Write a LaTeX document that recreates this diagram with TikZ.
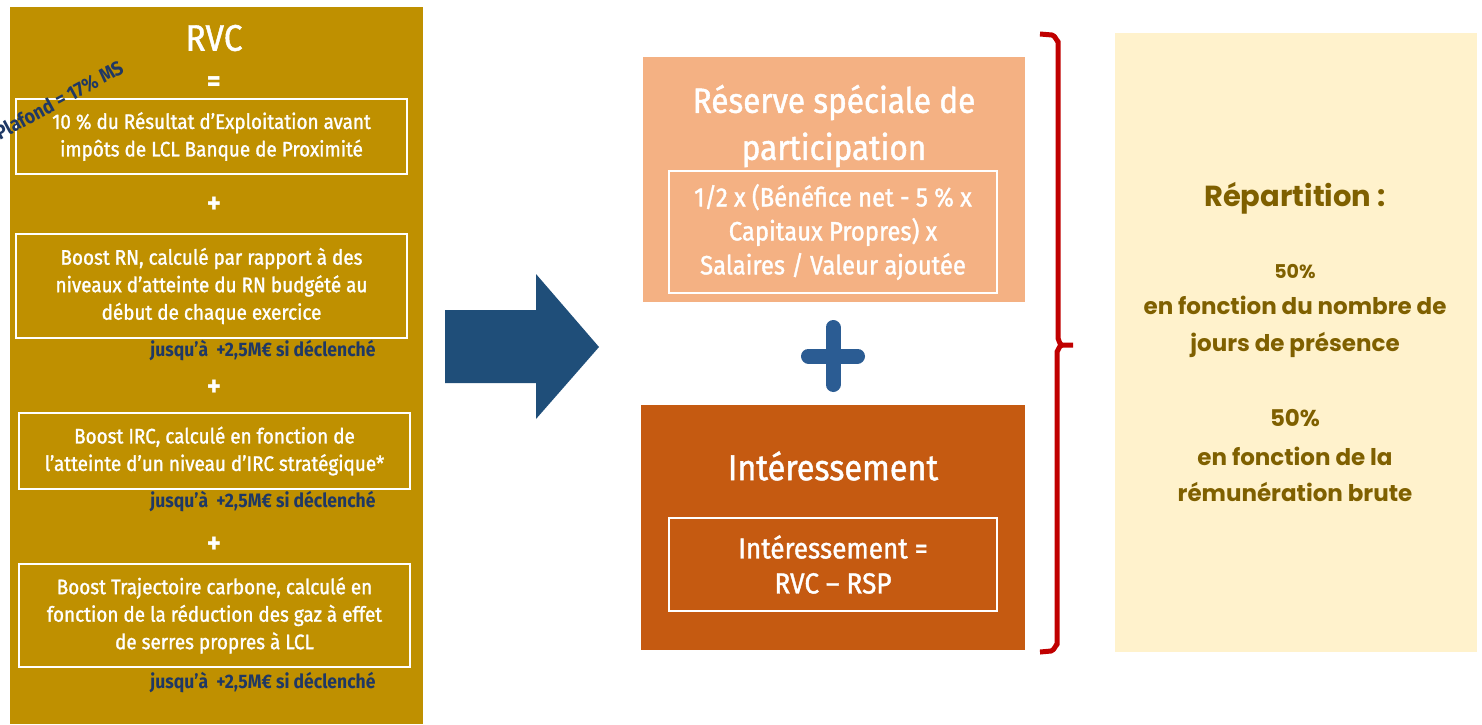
\documentclass[tikz,border=0pt]{standalone}
\usepackage{fontspec}
\setmainfont{Fira Sans}[FakeStretch=0.9, UprightFeatures={FakeBold=1.3}]
\newfontfamily\repfont{Poppins}
\usetikzlibrary{positioning}
\definecolor{rvcgold}{HTML}{BF9000}
\definecolor{rspsalmon}{HTML}{F4B183}
\definecolor{intorange}{HTML}{C55A11}
\definecolor{repcream}{HTML}{FFF2CC}
\definecolor{repbrown}{HTML}{7F6000}
\definecolor{noteblue}{HTML}{1F3864}
\definecolor{arrowblue}{HTML}{1F4E79}
\definecolor{plusblue}{HTML}{2B5C93}
\definecolor{bracered}{HTML}{C00000}
\tikzset{panel/.style = {inner sep = 0, minimum width = #1}}
\tikzset{framebox/.style = {draw = white, line width = 1.2pt, inner sep = 0, align = center,
                            text = white, font = \fontsize{21}{27.5}\selectfont}}
\tikzset{op/.style = {text = white, font = \fontsize{30}{30}\selectfont\bfseries}}
\tikzset{boostnote/.style = {anchor = east, text = noteblue,
                             font = \fontsize{19.5}{19.5}\selectfont\bfseries}}
\tikzset{head/.style = {text = white, align = center}}
\tikzset{rep/.style = {text = repbrown, align = center}}

\begin{document}
\begin{tikzpicture}[x=1pt, y=-1pt]
      \useasboundingbox (0, 0) rectangle (1482, 724);

      \fill [rvcgold] (10, 7) rectangle (423, 724);
      \node [head, font = \fontsize{37}{37}\selectfont] (rvc) at (214, 38) {RVC};
      \node [op] (eq) at (214, 84) {=};
      \node [framebox, minimum width = 391pt, minimum height = 75pt] (rex) at (211.5, 136.5)
            {10 \% du Résultat d'Exploitation avant\\impôts de LCL Banque de Proximité};
      \node [op] (plusa) at (214, 205) {+};
      \node [framebox, minimum width = 391pt, minimum height = 104pt] (rn) at (211.5, 286)
            {Boost RN, calculé par rapport à des\\niveaux d'atteinte du RN budgété au\\début de chaque exercice};
      \node [boostnote] (rnnote) at (379, 351) {jusqu'à\ \ +2,5M€ si déclenché};
      \node [op] (plusb) at (214, 388) {+};
      \node [framebox, minimum width = 391pt, minimum height = 76pt] (irc) at (214.5, 451)
            {Boost IRC, calculé en fonction de\\l'atteinte d’un niveau d’IRC stratégique*};
      \node [boostnote] (ircnote) at (379, 502) {jusqu'à\ \ +2,5M€ si déclenché};
      \node [op] (plusc) at (214, 545) {+};
      \node [framebox, minimum width = 391pt, minimum height = 103pt] (carb) at (214.5, 615.5)
            {Boost Trajectoire carbone, calculé en\\fonction de la réduction des gaz à effet\\de serres propres à LCL};
      \node [boostnote] (carbnote) at (379, 683) {jusqu'à\ \ +2,5M€ si déclenché};
      \node [text = noteblue, rotate = 28.5, font = \fontsize{20}{20}\selectfont\bfseries] (cap) at (59, 100)
            {Plafond = 17\% MS};

      \fill [arrowblue] (445, 310) -- (536, 310) -- (536, 274) -- (599, 347)
            -- (536, 419) -- (536, 383) -- (445, 383) -- cycle;

      \node [panel = 382pt, fill = rspsalmon, minimum height = 245pt] (rsp) at (834, 179.5) {};
      \node [head, font = \fontsize{35}{47}\selectfont] (rsptitle) at (834, 126) {Réserve spéciale de\\participation};
      \node [framebox, minimum width = 328pt, minimum height = 122pt,
             font = \fontsize{26.5}{34}\selectfont] (rspcalc) at (833, 232)
            {1/2 x (Bénéfice net - 5 \% x\\Capitaux Propres) x\\Salaires / Valeur ajoutée};

      \draw [plusblue, line width = 15pt, line cap = round] (833, 327.5) -- (833, 384.5)
            (808.5, 356) -- (857.5, 356);

      \node [panel = 384pt, fill = intorange, minimum height = 245pt] (int) at (833, 527.5) {};
      \node [head, font = \fontsize{36}{36}\selectfont] (inttitle) at (833, 466) {Intéressement};
      \node [framebox, minimum width = 328pt, minimum height = 93pt,
             font = \fontsize{29}{35}\selectfont] (intcalc) at (833, 564.5)
            {Intéressement =\\RVC – RSP};

      \draw [bracered, line width = 5pt, line join = round]
            (1040, 34) -- (1052, 35) to [out = 0, in = -90] (1058, 41) -- (1058, 339)
            to [out = 90, in = 180] (1062, 345) -- (1073, 345);
      \draw [bracered, line width = 5pt, line join = round]
            (1062, 345) to [out = 180, in = -90] (1057, 351) -- (1057, 645)
            to [out = 90, in = 0] (1051, 651) -- (1040, 652);

      \fill [repcream] (1115, 33) rectangle (1477, 652);
      \node [rep, font = \repfont\bfseries\fontsize{29}{29}\selectfont] (reptitle) at (1295, 198) {Répartition :};
      \node [rep, font = \repfont\bfseries\fontsize{19}{19}\selectfont] (shareA) at (1295, 272) {50\%};
      \node [rep, font = \repfont\bfseries\fontsize{23}{37}\selectfont] (daysA) at (1295, 327)
            {en fonction du nombre de\\jours de présence};
      \node [rep, font = \repfont\bfseries\fontsize{23}{23}\selectfont] (shareB) at (1295, 418) {50\%};
      \node [rep, font = \repfont\bfseries\fontsize{23}{36}\selectfont] (payB) at (1295, 474)
            {en fonction de la\\rémunération brute};
\end{tikzpicture}
\end{document}
